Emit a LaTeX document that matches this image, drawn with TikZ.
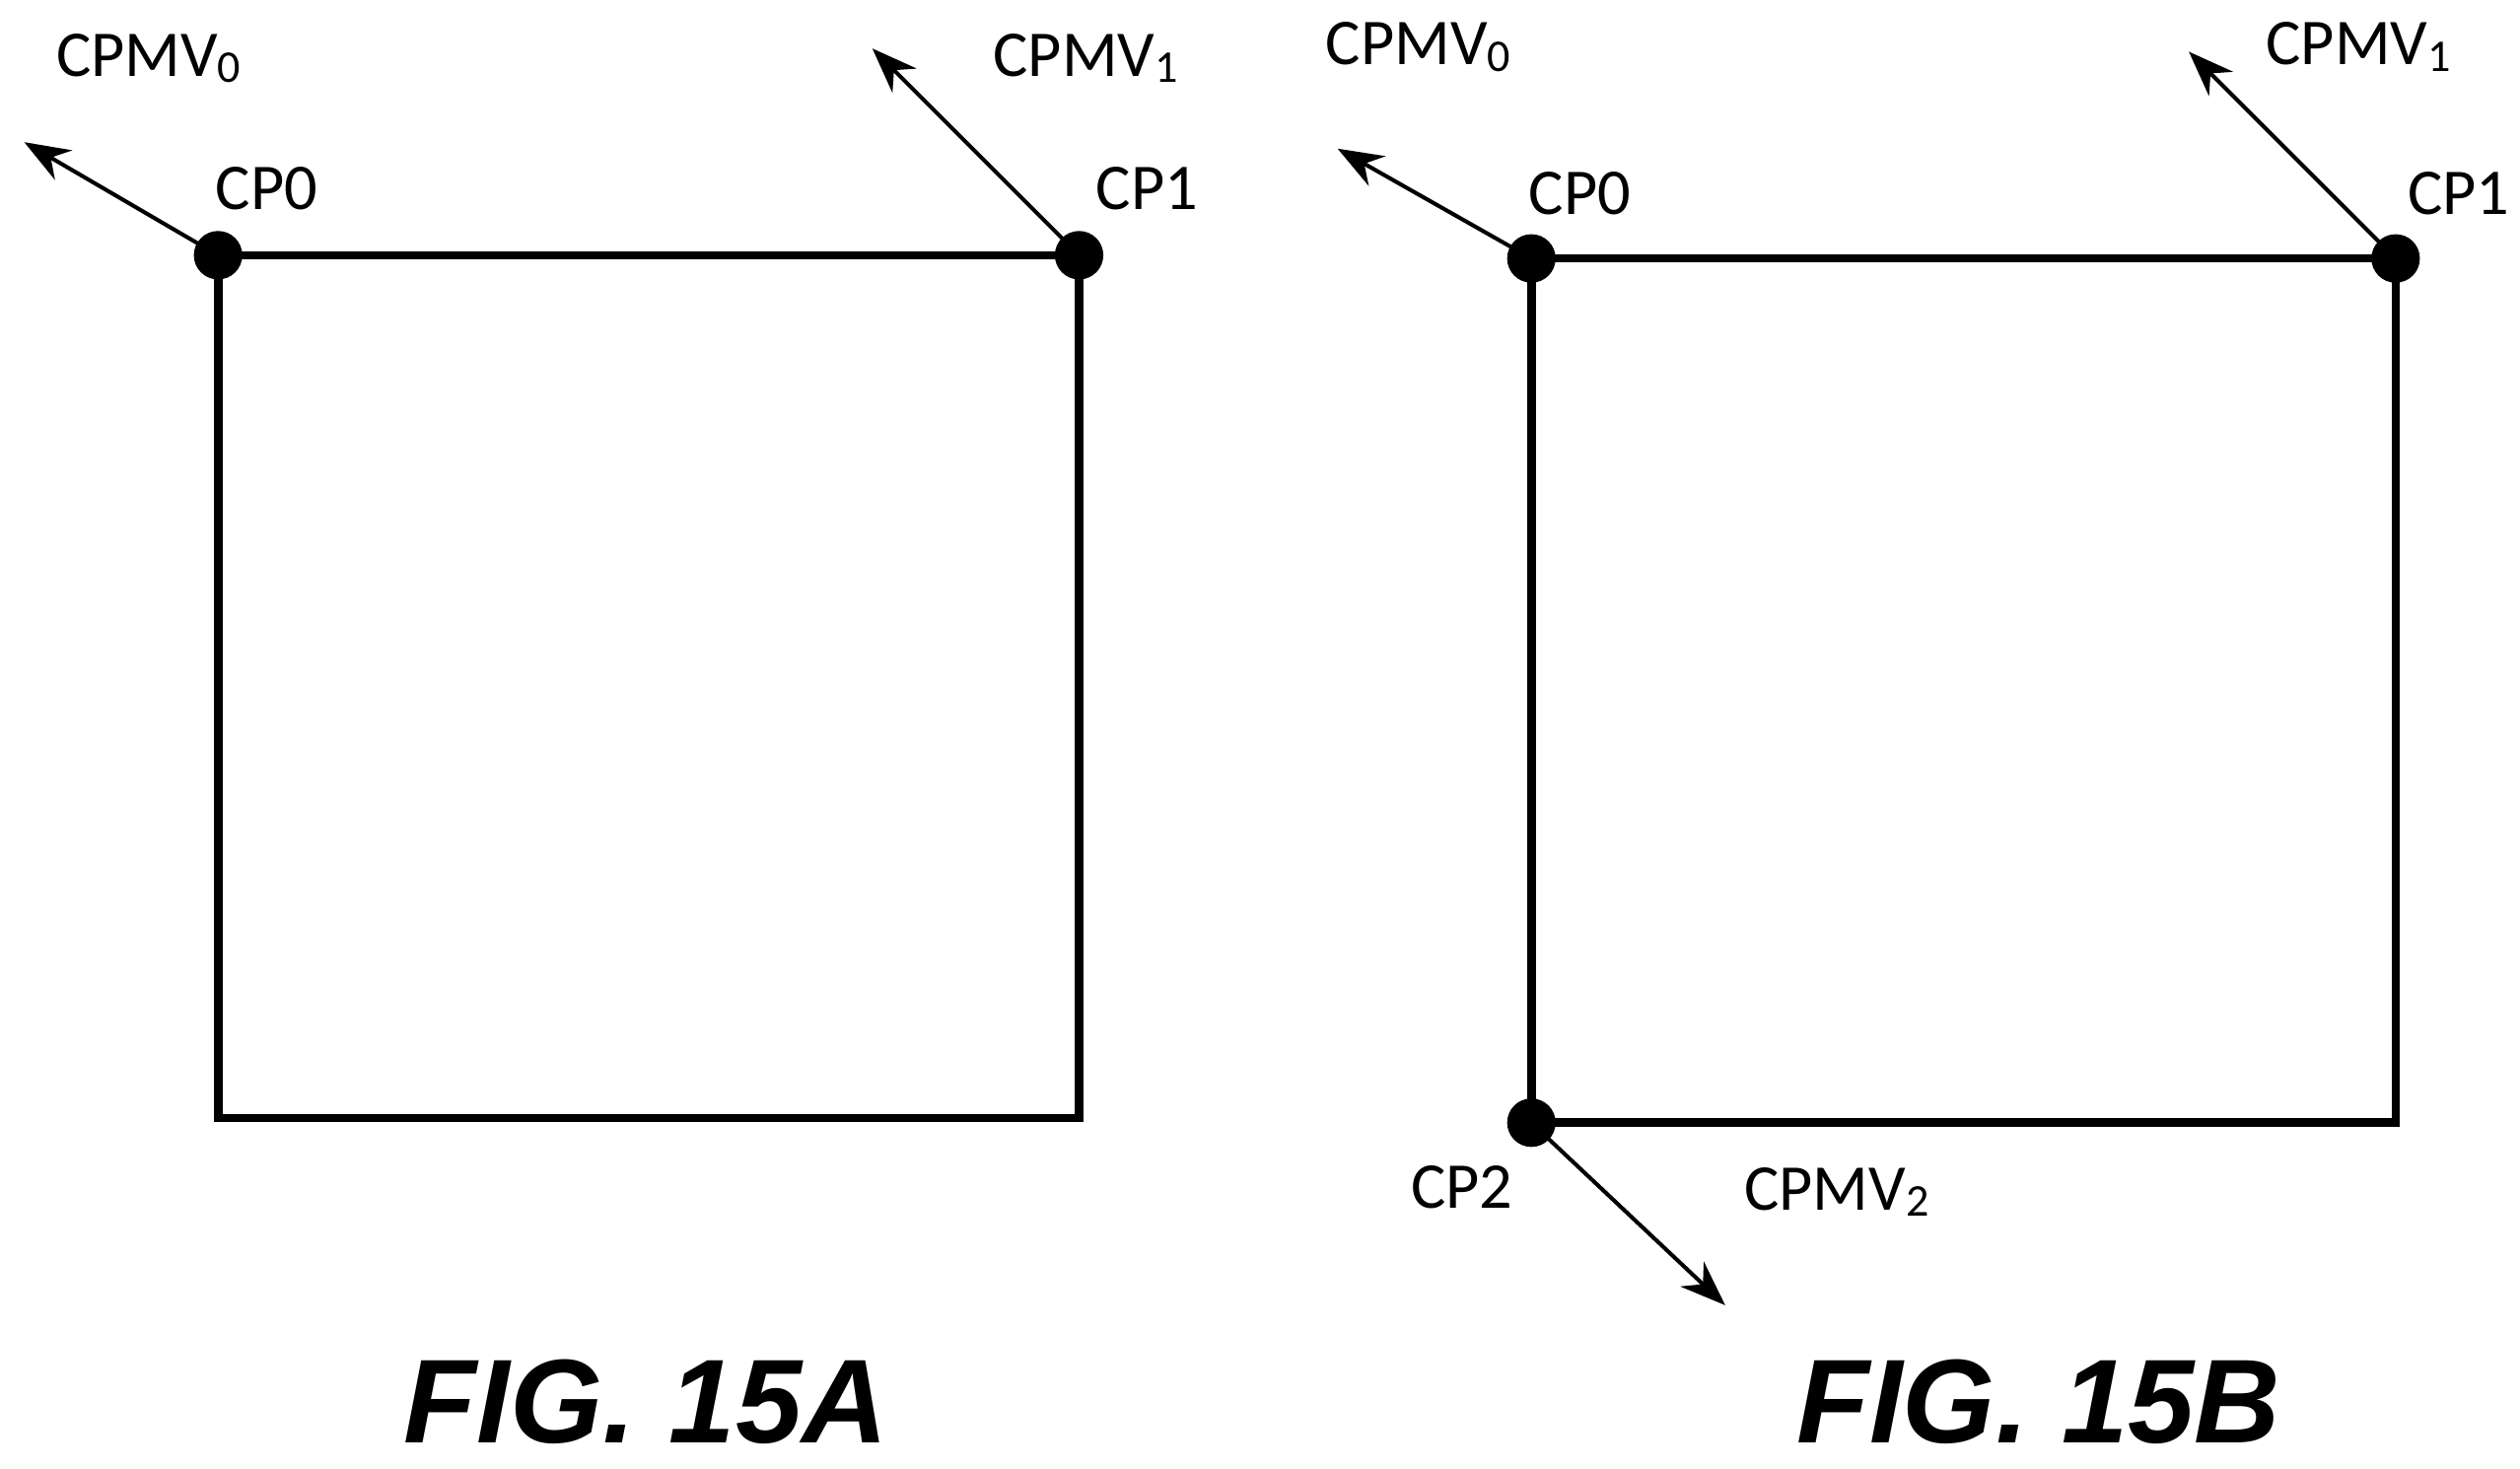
\documentclass[tikz,border=0pt]{standalone}
\usepackage{fontspec}
\setmainfont{Carlito}
\newfontfamily\figfont{Liberation Sans}
\usetikzlibrary{arrows.meta}
\begin{document}
\begin{tikzpicture}[x=0.01cm,y=-0.01cm,
  box/.style={line width=1.5pt},
  vec/.style={line width=0.7pt,-{Stealth[length=8pt,width=6pt]}},
  dot/.style={circle,fill=black,inner sep=0pt,minimum size=0.3cm},
  lbl/.style={font=\fontsize{11.5}{13}\selectfont,inner sep=0pt},
  fig/.style={font=\figfont\bfseries\itshape\fontsize{21}{24}\selectfont,inner sep=0pt}]
\useasboundingbox (0,0) rectangle (1560,909);
% left
\coordinate (a0) at (135,158); \coordinate (a1) at (668,158);
\coordinate (a2) at (135,692); \coordinate (a3) at (668,692);
\draw[box] (a0)--(a1)--(a3)--(a2)--cycle;
\node[dot] (A0) at (a0) {}; \node[dot] (A1) at (a1) {};
\coordinate (av0) at (15,88); \coordinate (av1) at (540,30);
\draw[vec] (A0.center)--(av0); \draw[vec] (A1.center)--(av1);
\node[lbl] (la) at (92,36) {CPMV\raisebox{-0.2ex}{\footnotesize 0}};
\node[lbl] (lb) at (672,36) {CPMV\raisebox{-0.2ex}{\footnotesize 1}};
\node[lbl] (lc) at (165,117) {CP0};
\node[lbl] (ld) at (710,117) {CP1};
\node[fig] (fa) at (400,868) {FIG. 15A};
% right
\coordinate (b0) at (948,160); \coordinate (b1) at (1483,160);
\coordinate (b2) at (948,695); \coordinate (b3) at (1483,695);
\draw[box] (b0)--(b1)--(b3)--(b2)--cycle;
\node[dot] (B0) at (b0) {}; \node[dot] (B1) at (b1) {}; \node[dot] (B2) at (b2) {};
\coordinate (bv0) at (828,92); \coordinate (bv1) at (1355,32); \coordinate (bv2) at (1068,808);
\draw[vec] (B0.center)--(bv0); \draw[vec] (B1.center)--(bv1); \draw[vec] (B2.center)--(bv2);
\node[lbl] (le) at (878,29) {CPMV\raisebox{-0.2ex}{\footnotesize 0}};
\node[lbl] (lf) at (1460,29) {CPMV\raisebox{-0.2ex}{\footnotesize 1}};
\node[lbl] (lg) at (978,120) {CP0};
\node[lbl] (lh) at (1522,120) {CP1};
\node[lbl] (li) at (905,735) {CP2};
\node[lbl] (lj) at (1137,738) {CPMV\raisebox{-0.2ex}{\footnotesize 2}};
\node[fig] (fb) at (1262,868) {FIG. 15B};
\end{tikzpicture}
\end{document}
